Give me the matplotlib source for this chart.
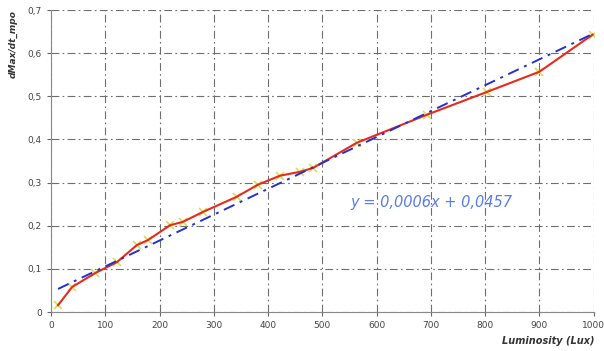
import numpy as np
import matplotlib.pyplot as plt

lux = [13, 39, 81, 122, 158, 179, 219, 243, 280, 342, 381, 422, 459, 483, 563, 692, 803, 900, 998]
dmax = [0.016, 0.058, 0.09, 0.116, 0.155, 0.167, 0.201, 0.209, 0.232, 0.267, 0.295, 0.316,
        0.325, 0.334, 0.392, 0.457, 0.51, 0.557, 0.643]

# linear trend from the chart label
slope = 0.0006
intercept = 0.0457

xticks = [0, 100, 200, 300, 400, 500, 600, 700, 800, 900, 1000]
yticks = [0, 0.1, 0.2, 0.3, 0.4, 0.5, 0.6, 0.7]
ytick_labels = ['0', '0,1', '0,2', '0,3', '0,4', '0,5', '0,6', '0,7']

fig = plt.figure(figsize=(6.04, 3.51), dpi=100)
ax = fig.add_axes([0.0844, 0.111, 0.8986, 0.8605])

ax.plot(lux, dmax, color='#e82a1e', lw=1.5, zorder=3)
ax.plot(lux, dmax, 'x', color='#d6df5a', ms=6, mew=1.2, zorder=2)

xt = np.array([lux[0], lux[-1]])
ax.plot(xt, slope * xt + intercept, color='#2430d0', lw=1.4,
        linestyle=(0, (6, 3, 1.5, 3)), zorder=4)

ax.text(552, 0.253, 'y = 0,0006x + 0,0457', color='#5a7de6', fontsize=10.5,
        style='italic', va='center')

ax.set_xlim(0, 1000)
ax.set_ylim(0, 0.7)
ax.set_xticks(xticks)
ax.set_xticklabels([str(v) for v in xticks])
ax.set_yticks(yticks)
ax.set_yticklabels(ytick_labels)
ax.tick_params(labelsize=6.5, colors='#666666', length=3, width=0.8)
for lab in ax.get_xticklabels() + ax.get_yticklabels():
    lab.set_color('#444444')

ax.grid(True, color='#6e6e6e', linestyle=(0, (7, 3, 1.5, 3)), lw=0.8)
ax.spines['top'].set_visible(False)
ax.spines['right'].set_visible(False)
ax.spines['left'].set_color('#888888')
ax.spines['bottom'].set_color('#888888')

fig.text(0.985, 0.015, 'Luminosity (Lux)', ha='right', va='bottom', fontsize=7,
         style='italic', weight='bold', color='#333333')
fig.text(0.022, 0.97, 'dMax/dt_mpo', ha='center', va='top', rotation=90, fontsize=6.5,
         style='italic', weight='bold', color='#333333')

fig.savefig('out.png', dpi=100)
